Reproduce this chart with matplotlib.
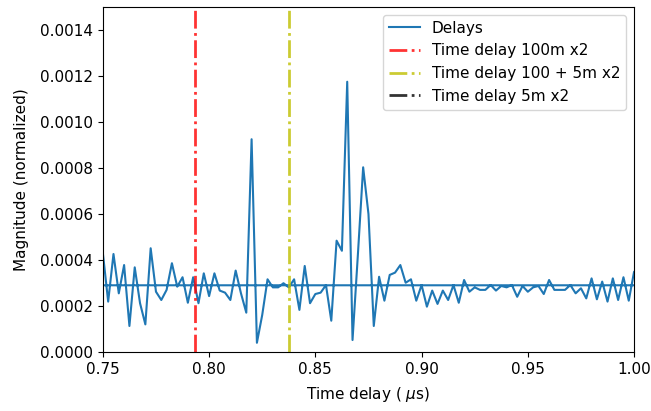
import numpy as np
import matplotlib
matplotlib.use("Agg")
import matplotlib.pyplot as plt

plt.rcParams["font.size"] = 11

# sampled delay profile, 0.75 .. 1.00 us with 2.5 ns step
t_start = 0.75
t_step = 0.0025
magnitude = [
    0.00043, 0.000219, 0.000426, 0.000255, 0.000378, 0.000113, 0.000368, 0.000212,
    0.00012, 0.000451, 0.000262, 0.000226, 0.00027, 0.000386, 0.000284, 0.000325,
    0.000214, 0.000325, 0.000212, 0.000342, 0.000243, 0.000342, 0.000267, 0.000258,
    0.000226, 0.000354, 0.000255, 0.000171, 0.000925, 0.00004, 0.000161, 0.000316,
    0.000281, 0.000281, 0.000299, 0.000281, 0.000316, 0.000183, 0.000374, 0.000212,
    0.000252, 0.000258, 0.000291, 0.000136, 0.000484, 0.00044, 0.001175, 0.000052,
    0.00042, 0.000803, 0.0006, 0.000113, 0.000327, 0.000223, 0.000335, 0.000345,
    0.000378, 0.000301, 0.000316, 0.000223, 0.000291, 0.000197, 0.000267, 0.000209,
    0.000267, 0.000226, 0.000291, 0.000214, 0.000313, 0.000262, 0.000281, 0.00027,
    0.00027, 0.000291, 0.000267, 0.000287, 0.000281, 0.000291, 0.00024, 0.000287,
    0.000262, 0.000281, 0.000287, 0.000252, 0.000313, 0.00027, 0.00027, 0.00027,
    0.000291, 0.000255, 0.000277, 0.000233, 0.00032, 0.000229, 0.000306, 0.000219,
    0.00032, 0.000226, 0.000325, 0.000223, 0.000349,
]
# wrap-around samples outside the shown window (fft ordering)
wrap_times = [1.0025, 0.7475]
wrap_magnitude = [0.00029, 0.00029]

delay_100m = 0.7935
delay_105m = 0.8375
delay_5m = 0.044

times = list(np.round(t_start + t_step * np.arange(len(magnitude)), 6)) + wrap_times
values = magnitude + wrap_magnitude

fig, ax = plt.subplots(figsize=(6.51, 4.11), dpi=100)
fig.subplots_adjust(left=0.158, right=0.974, bottom=0.1436, top=0.983)

ax.plot(times, values, label="Delays")
ax.axvline(delay_100m, color="r", ls="-.", lw=2, alpha=0.8, label="Time delay 100m x2")
ax.axvline(delay_105m, color="y", ls="-.", lw=2, alpha=0.8, label="Time delay 100 + 5m x2")
ax.axvline(delay_5m, color="k", ls="-.", lw=2, alpha=0.8, label="Time delay 5m x2")

ax.set_xlim(0.75, 1.0)
ax.set_ylim(0, 0.0015)
ax.set_xlabel(r"Time delay ( $\mu$s)", labelpad=6)
ax.set_ylabel("Magnitude (normalized)", labelpad=8)
ax.legend(loc="upper right")

plt.savefig("out.png")
